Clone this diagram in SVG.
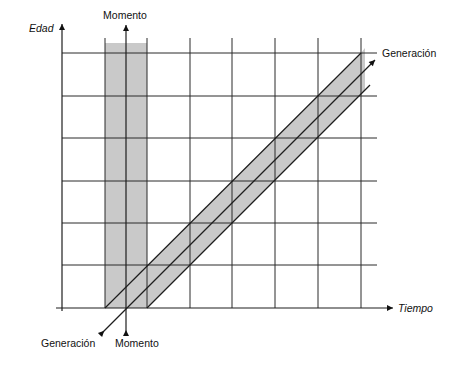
<svg xmlns="http://www.w3.org/2000/svg" width="474" height="365" viewBox="0 0 474 365">
<style>
.ln{stroke:#1e1e1e;stroke-width:1.2;fill:none}
.gr{stroke:#2a2a2a;stroke-width:1;fill:none}
.sh{fill:#c9c9c9;stroke:none}
.t{font-family:"Liberation Sans",Arial,sans-serif;font-size:10.5px;fill:#111}
.it{font-style:italic}
</style>
<defs>
<marker id="ah" viewBox="0 0 10 10" refX="10" refY="5" markerWidth="8" markerHeight="6" markerUnits="userSpaceOnUse" orient="auto">
<path d="M0,0 L10,5 L0,10 z" fill="#111"/>
</marker>
<marker id="as" viewBox="0 0 10 10" refX="0" refY="5" markerWidth="8" markerHeight="6" markerUnits="userSpaceOnUse" orient="auto">
<path d="M0,5 L10,0 L10,10 z" fill="#111" transform="rotate(180 5 5)"/>
</marker>
</defs>
<rect width="474" height="365" fill="#fff"/>
<g id="bands">
<rect class="sh" x="105" y="43" width="42" height="265"/>
<polygon class="sh" points="105,308 361,53 365,48 365,90 147,308"/>
</g>
<g id="grid">
<path class="gr" d="M62,53H377M62,96H377M62,138H377M62,181H377M62,223H377M62,265H377"/>
<path class="gr" d="M105,38V308M147,38V308M190,38V308M232,38V308M275,38V308M318,38V308M361,38V308"/>
</g>
<g id="connectors">
<line class="ln" x1="62" y1="311" x2="62" y2="24" marker-end="url(#ah)"/>
<line class="ln" x1="56" y1="308" x2="393" y2="308" marker-end="url(#ah)"/>
<line class="ln" x1="105" y1="308" x2="361" y2="53"/>
<line class="ln" x1="147" y1="308" x2="370" y2="85"/>
<line class="ln" x1="126" y1="336" x2="126" y2="25" marker-start="url(#as)" marker-end="url(#ah)"/>
<line class="ln" x1="100" y1="335" x2="375" y2="60" marker-start="url(#as)" marker-end="url(#ah)"/>
</g>
<g id="labels">
<text class="t" x="125" y="19" text-anchor="middle">Momento</text>
<text class="t it" x="29" y="32">Edad</text>
<text class="t" x="382" y="57">Generación</text>
<text class="t it" x="398" y="312">Tiempo</text>
<text class="t" x="41" y="347">Generación</text>
<text class="t" x="115" y="347">Momento</text>
</g>
</svg>
